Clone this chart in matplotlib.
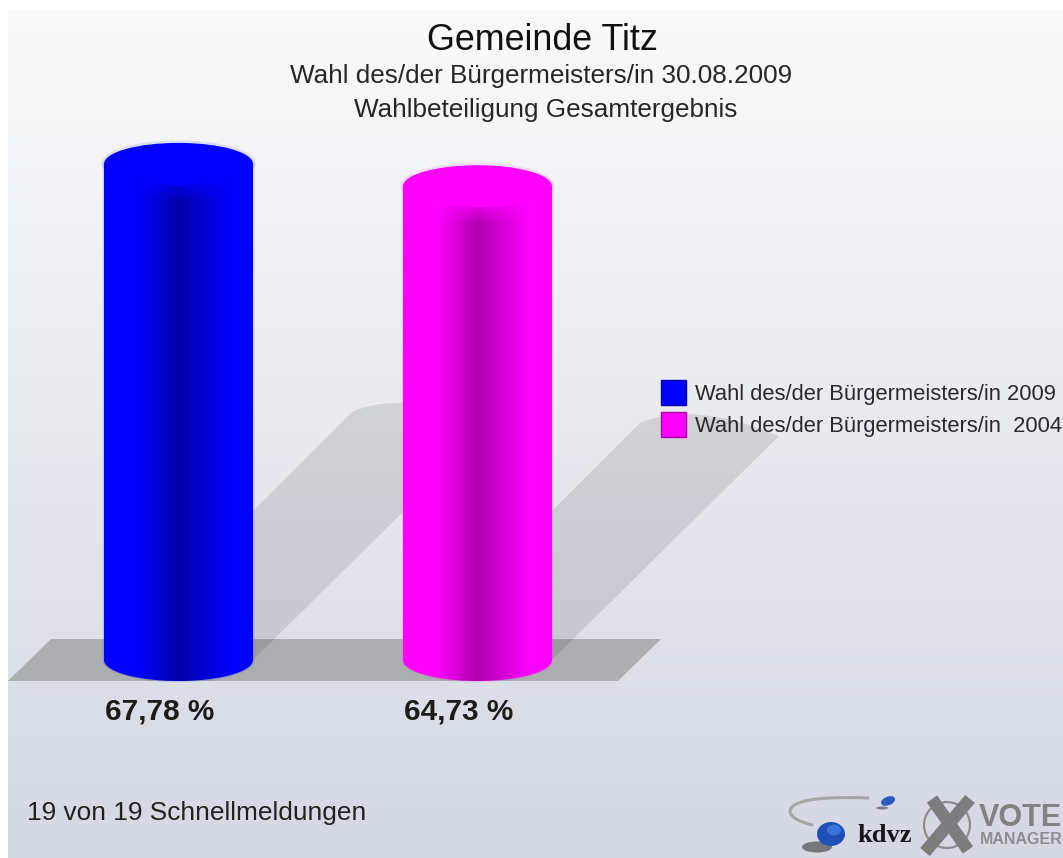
import numpy as np
import matplotlib
matplotlib.use("Agg")
import matplotlib.pyplot as plt
from matplotlib.patches import Ellipse, PathPatch, Polygon, Patch
from matplotlib.path import Path
from matplotlib.colors import LinearSegmentedColormap, to_rgb
from matplotlib.lines import Line2D

title = "Gemeinde Titz"
subtitle_1 = "Wahl des/der Bürgermeisters/in 30.08.2009"
subtitle_2 = "Wahlbeteiligung Gesamtergebnis"
footer = "19 von 19 Schnellmeldungen"
series_names = ["Wahl des/der Bürgermeisters/in 2009", "Wahl des/der Bürgermeisters/in  2004"]
values = [67.78, 64.73]
value_labels = ["67,78 %", "64,73 %"]
bar_left = [104, 403]
bar_colors = ["#0000ff", "#ff00ff"]
bar_dark = ["#0000a8", "#b000b0"]

W, H = 1063, 858
BASE = 660.0          # pixel row of the value axis zero
SCALE = 7.32          # pixels per percentage point
BAR_W = 149.0
RY = 21.0

plt.rcParams['font.family'] = ['Liberation Sans', 'DejaVu Sans']
fig = plt.figure(figsize=(W / 100, H / 100), dpi=100, facecolor="white")
ax = fig.add_axes([0, 0, 1, 1])
ax.axis("off")
ax.set_xlim(0, W)
ax.set_ylim((BASE - H) / SCALE, BASE / SCALE)


def Y(py):
    return (BASE - py) / SCALE


# background
bg = LinearSegmentedColormap.from_list("bg", ["#fafafa", "#e8eaee", "#d3d8e3"])
ax.imshow(np.linspace(0, 1, 256).reshape(-1, 1), cmap=bg, aspect="auto",
          extent=(8, W, Y(858), Y(10)), zorder=0, interpolation="bilinear")

# floor
ax.add_patch(Polygon([(8, Y(681)), (618, Y(681)), (661, Y(639)), (51, Y(639))],
                     closed=True, fc="#adaeb0", ec="none", zorder=1))

# cylinder shadows
for x0, v in zip(bar_left, values):
    h = v * SCALE / 2
    cx, cy = x0 + h, BASE - h
    verts = [(x0, Y(BASE)), (cx, Y(cy)), (cx + 52, Y(cy - 23)), (cx + 139, Y(cy + 13)),
             (x0 + BAR_W, Y(BASE)), (x0, Y(BASE))]
    codes = [Path.MOVETO, Path.LINETO, Path.CURVE3, Path.CURVE3, Path.LINETO, Path.CLOSEPOLY]
    ax.add_patch(PathPatch(Path(verts, codes), fc="black", ec="none", alpha=0.10, zorder=2))

# cylinders
for x0, v, c, d in zip(bar_left, values, bar_colors, bar_dark):
    a = BAR_W / 2
    xc = x0 + a
    t = np.linspace(np.pi, 0, 80)
    arc = [(xc + a * np.cos(q), Y(BASE + RY * np.sin(q))) for q in t]
    verts = [(x0, v)] + arc + [(x0 + BAR_W, v), (x0, v)]
    codes = [Path.MOVETO] + [Path.LINETO] * (len(verts) - 2) + [Path.CLOSEPOLY]
    body = PathPatch(Path(verts, codes), fc="none", ec="none", zorder=3)
    ax.add_patch(body)
    ax.add_patch(PathPatch(Path(verts, codes), fc="none", ec=c, lw=2.0, alpha=0.12, zorder=2.9))
    cmap = LinearSegmentedColormap.from_list("cyl", [(0, c), (0.22, c), (0.5, d), (0.86, c), (1, c)])
    im = ax.imshow(np.linspace(0, 1, 256).reshape(1, -1), cmap=cmap, aspect="auto",
                   extent=(x0, x0 + BAR_W, Y(BASE + RY), v), zorder=3, interpolation="bilinear")
    im.set_clip_path(body)
    # soft fade from the lid into the shaded body
    fade = np.zeros((64, 1, 4))
    fade[..., :3] = to_rgb(c)
    fade[:, 0, 3] = np.linspace(1, 0, 64)
    top_px = BASE - v * SCALE
    fm = ax.imshow(fade, aspect="auto", extent=(x0, x0 + BAR_W, Y(top_px + 38), Y(top_px + 12)),
                   zorder=3.2, interpolation="bilinear")
    fm.set_clip_path(body)
    ax.add_patch(Ellipse((xc, v), BAR_W, 2 * RY / SCALE, fc=c, ec="none", zorder=4))
    ax.add_patch(Ellipse((xc, v), BAR_W + 3, (2 * RY + 3) / SCALE, fc="none", ec=c, lw=1.5,
                         alpha=0.10, zorder=2.9))

ax.set_xlim(0, W)
ax.set_ylim((BASE - H) / SCALE, BASE / SCALE)

# titles
ax.text(542, Y(40), title, fontsize=25.8, ha="center", va="center", color="#111111", zorder=6)
ax.text(541.5, Y(76), subtitle_1, fontsize=18.8, ha="center", va="center", color="#262626", zorder=6)
ax.text(545.5, Y(110), subtitle_2, fontsize=18.8, ha="center", va="center", color="#262626", zorder=6)

# value labels
for x0, s in zip(bar_left, value_labels):
    ax.text(x0 + 56, Y(712), s, fontsize=21.4, fontweight="bold", ha="center", va="center",
            color="#1c1c1c", zorder=6)

ax.text(27, Y(813), footer, fontsize=18.9, ha="left", va="center", color="#222222", zorder=6)

# legend
handles = [Patch(fc=c, ec=d, lw=1.0, label=n) for c, d, n in zip(bar_colors, bar_dark, series_names)]
FS = 15.8
px = FS * 100 / 72
leg = ax.legend(handles=handles, loc="upper left", bbox_transform=ax.transData,
                bbox_to_anchor=(661, Y(380)), frameon=False, fontsize=FS, borderpad=0, borderaxespad=0,
                handlelength=25 / px, handleheight=(25 / px - 0.245) / 0.65, handletextpad=9 / px,
                labelspacing=7 / px, labelcolor="#2a2a2a")
leg.set_zorder(7)

# logo: kdvz
ax.add_patch(Ellipse((817, Y(847)), 30, 11 / SCALE, fc="#55575c", ec="none", alpha=0.75, zorder=5))
ax.add_patch(Ellipse((831, Y(834)), 28, 24 / SCALE, fc="#1f50b8", ec="none", zorder=5))
ax.add_patch(Ellipse((834, Y(830)), 14, 11 / SCALE, fc="#3f7ae0", ec="none", alpha=0.8, zorder=5))
ax.add_patch(Ellipse((888, Y(801)), 14, 9 / SCALE, angle=2, fc="#2a5cc0", ec="none", zorder=5))
ax.add_patch(Ellipse((882, Y(808)), 12, 3 / SCALE, fc="#55575c", ec="none", alpha=0.7, zorder=5))
sw = Path([(868, Y(798)), (790, Y(795)), (790, Y(812)), (792, Y(820)), (812, Y(825))],
          [Path.MOVETO, Path.CURVE3, Path.CURVE3, Path.CURVE3, Path.CURVE3])
ax.add_patch(PathPatch(sw, fc="none", ec="#a4a6a9", lw=2.2, capstyle="round", zorder=5))
ax.text(885, Y(835), "kdvz", fontsize=19, fontweight="bold", family="Liberation Serif",
        ha="center", va="center", color="#15171b", zorder=6)

# logo: VOTE MANAGER
ax.add_patch(Ellipse((947, Y(825)), 46, 46 / SCALE, fc="none", ec="#8b8c8e", lw=1.6, zorder=5))
for seg in (((925, 852), (970, 799)), ((932, 799), (968, 850))):
    ax.add_line(Line2D([seg[0][0], seg[1][0]], [Y(seg[0][1]), Y(seg[1][1])], color="#7c7d7f", lw=9,
                       solid_capstyle="butt", zorder=5))
ax.text(979, Y(818), "VOTE", fontsize=22, fontweight="bold", ha="left", va="center",
        color="#808285", zorder=6)
ax.text(980, Y(840), "MANAGER", fontsize=11.5, fontweight="bold", ha="left", va="center",
        color="#8b8d90", zorder=6)

fig.savefig("out.png", dpi=100, facecolor="white")
